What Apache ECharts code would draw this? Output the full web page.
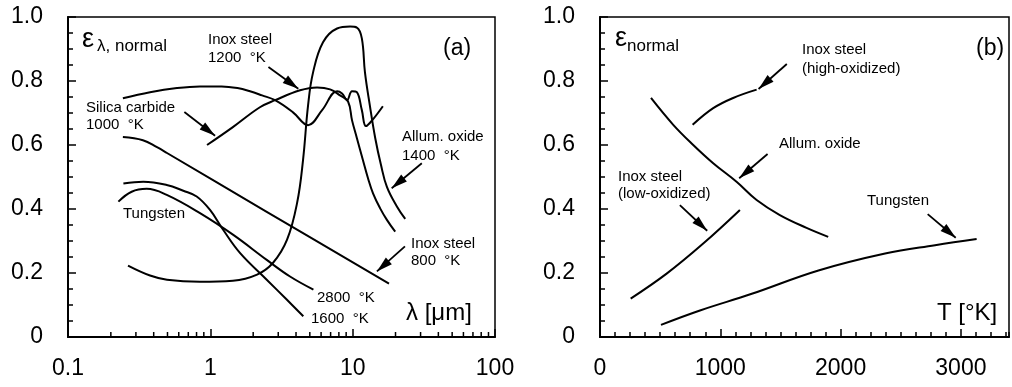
<!DOCTYPE html>
<html>
<head>
<meta charset="utf-8">
<title>emissivity</title>
<style>html,body{margin:0;padding:0;background:#fff;}</style>
</head>
<body>
<div id="graph" style="width:1012px;height:387px;"></div>
<script src="https://cdn.jsdelivr.net/npm/echarts@6/dist/echarts.min.js"></script>
<script>
// (a) spectral emissivity vs wavelength [um]
const lambdaMinorTicks = [0.2, 0.3, 0.4, 0.5, 0.6, 0.7, 0.8, 0.9, 2, 3, 4, 5, 6, 7, 8, 9, 20, 30, 40, 50, 60, 70, 80, 90];
const inoxSteel1200 = [[0.243, 0.746], [0.377, 0.765], [0.583, 0.778], [0.846, 0.783], [1.20, 0.783], [1.55, 0.778], [1.90, 0.768], [2.31, 0.755], [2.85, 0.740], [3.81, 0.702], [4.86, 0.662], [6.10, 0.709], [7.77, 0.768], [8.42, 0.761], [9.13, 0.740], [9.90, 0.768], [10.7, 0.765], [11.6, 0.709], [12.4, 0.659], [13.7, 0.677], [16.3, 0.721]];
const silicaCarbide = [[0.948, 0.600], [1.44, 0.656], [2.23, 0.718], [2.85, 0.740], [4.27, 0.771], [5.62, 0.780], [6.94, 0.774], [8.15, 0.755], [9.28, 0.736], [9.90, 0.677], [10.7, 0.622], [11.8, 0.553], [12.8, 0.497], [13.9, 0.449], [15.6, 0.402], [17.4, 0.366], [19.9, 0.329]];
const allumOxide1400 = [[0.264, 0.223], [0.377, 0.192], [0.496, 0.179], [0.846, 0.173], [1.44, 0.176], [2.13, 0.195], [2.76, 0.232], [3.46, 0.304], [4.07, 0.419], [4.48, 0.553], [4.86, 0.724], [5.27, 0.827], [6.19, 0.921], [7.77, 0.964], [9.59, 0.970], [10.7, 0.967], [11.6, 0.933], [12.2, 0.827], [13.2, 0.724], [14.4, 0.622], [15.8, 0.538], [17.4, 0.469], [20.5, 0.407], [23.4, 0.369]];
const inoxSteel800 = [[0.243, 0.625], [0.336, 0.615], [0.422, 0.593], [0.496, 0.575], [2.49, 0.391], [18.0, 0.167]];
const tungsten1600 = [[0.245, 0.480], [0.338, 0.485], [0.494, 0.475], [0.646, 0.457], [0.802, 0.439], [0.995, 0.397], [1.23, 0.335], [1.62, 0.262], [2.49, 0.179], [3.44, 0.117], [4.50, 0.065]];
const tungsten2800 = [[0.226, 0.423], [0.280, 0.454], [0.357, 0.463], [0.494, 0.444], [0.846, 0.387], [1.45, 0.319], [2.49, 0.241], [3.63, 0.189], [5.30, 0.148]];

// (b) total normal emissivity vs temperature [K]
const allumOxideT = [[424, 0.747], [609, 0.663], [775, 0.600], [941, 0.543], [1135, 0.485], [1302, 0.428], [1495, 0.381], [1717, 0.341], [1897, 0.313]];
const inoxHighOx = [[770, 0.663], [941, 0.715], [1107, 0.747], [1302, 0.773]];
const inoxLowOx = [[255, 0.120], [554, 0.198], [858, 0.292], [1163, 0.397]];
const tungstenT = [[507, 0.038], [831, 0.083], [1262, 0.135], [1816, 0.208], [2370, 0.261], [2785, 0.287], [3131, 0.306]];

// annotation arrows, [from, to] in data units
const arrowsA = [[[2.56, 0.844], [4.15, 0.776]], [[0.657, 0.703], [1.08, 0.629]], [[30.6, 0.543], [18.8, 0.465]], [[23.3, 0.283], [14.8, 0.205]]];
const arrowsB = [[[1553, 0.853], [1318, 0.775]], [[1393, 0.572], [1157, 0.496]], [[664, 0.412], [891, 0.332]], [[2724, 0.384], [2957, 0.310]]];

const FONT = 'Arial, "Liberation Sans", Helvetica, sans-serif';
const chart = echarts.init(document.getElementById('graph'));

const axisLine = {show: true, onZero: false, lineStyle: {color: '#000', width: 2}};
const tickStyle = {color: '#000', width: 1.5};
const tickLabel = {color: '#000', fontSize: 23, fontFamily: FONT};

function yAxis(gi) {
    return {
        type: 'value', gridIndex: gi, min: 0, max: 1, interval: 0.2,
        axisLine: axisLine,
        axisTick: {inside: true, length: 8, lineStyle: tickStyle},
        minorTick: {show: true, splitNumber: 4, length: 5, lineStyle: tickStyle},
        splitLine: {show: false},
        axisLabel: Object.assign({margin: 25, formatter: v => v === 0 ? '0' : v.toFixed(1)}, tickLabel)
    };
}

function arrowLine(list) {
    return {
        silent: true, animation: false,
        symbol: ['none', 'triangle'],
        lineStyle: {color: '#000', width: 1.8, type: 'solid'},
        itemStyle: {color: '#000'},
        label: {show: false},
        emphasis: {disabled: true},
        data: list.map(a => [
            {coord: a[0], symbol: 'none'},
            {coord: a[1], symbol: 'triangle', symbolSize: [9, 16], symbolOffset: [0, 8]}
        ])
    };
}

function curve(name, data, panel, arrows) {
    let s = {
        name, type: 'line', data,
        xAxisIndex: panel, yAxisIndex: panel,
        showSymbol: false, smooth: 0.4, silent: true,
        lineStyle: {color: '#000', width: 2}
    };
    if (arrows) s.markLine = arrowLine(arrows);
    return s;
}

chart.setOption({
    animation: false,
    backgroundColor: '#fff',
    grid: [
        {left: 68, top: 17, width: 427, height: 320, show: true, borderColor: '#000', borderWidth: 1.5},
        {left: 600, top: 17, width: 409, height: 320, show: true, borderColor: '#000', borderWidth: 1.5}
    ],
    xAxis: [
        {
            type: 'log', logBase: 10, gridIndex: 0, min: 0.1, max: 100,
            axisLine: axisLine,
            axisTick: {inside: true, length: 8, lineStyle: tickStyle},
            splitLine: {show: false},
            axisLabel: Object.assign({margin: 20, formatter: v => String(+(+v).toPrecision(3))}, tickLabel)
        },
        {
            type: 'value', gridIndex: 1, min: 0, max: 3400, interval: 1000, position: 'bottom',
            axisLine: axisLine,
            axisTick: {inside: true, length: 8, lineStyle: tickStyle},
            splitLine: {show: false},
            axisLabel: Object.assign({margin: 20, showMaxLabel: false, formatter: v => v % 1000 === 0 ? String(v) : ''}, tickLabel)
        },
        {
            type: 'value', gridIndex: 1, min: 0, max: 3400, interval: 125, position: 'bottom',
            axisLine: {show: false},
            axisTick: {inside: true, length: 5, lineStyle: tickStyle},
            splitLine: {show: false},
            axisLabel: {show: false}
        }
    ],
    yAxis: [yAxis(0), yAxis(1)],
    series: [
        curve('Inox steel 1200 °K', inoxSteel1200, 0, arrowsA),
        curve('Silica carbide 1000 °K', silicaCarbide, 0),
        curve('Allum. oxide 1400 °K', allumOxide1400, 0),
        curve('Inox steel 800 °K', inoxSteel800, 0),
        curve('Tungsten 1600 °K', tungsten1600, 0),
        curve('Tungsten 2800 °K', tungsten2800, 0),
        curve('Allum. oxide', allumOxideT, 1, arrowsB),
        curve('Inox steel (high-oxidized)', inoxHighOx, 1),
        curve('Inox steel (low-oxidized)', inoxLowOx, 1),
        curve('Tungsten', tungstenT, 1)
    ]
});

function text(str, x, y, size) {
    return {
        type: 'text', x: x, y: y, silent: true,
        style: {text: str, fill: '#000', fontSize: size || 15, fontFamily: FONT, verticalAlign: 'middle', align: 'left'}
    };
}

let graphic = [
    text('ε', 82, 40, 27), text('λ, normal', 97, 46, 17),
    text('Inox steel', 208, 40), text('1200  °K', 208, 58),
    text('(a)', 443, 49, 23),
    text('Silica carbide', 86, 107.5), text('1000  °K', 86, 124.5),
    text('Allum. oxide', 402, 137), text('1400  °K', 402, 156),
    text('Tungsten', 123, 214),
    text('Inox steel', 411, 243.5), text('800  °K', 411, 261),
    text('2800  °K', 317, 297.5), text('1600  °K', 311, 318.5),
    text('λ [μm]', 406, 313, 24),

    text('ε', 615, 39, 27), text('normal', 627, 46, 17),
    text('(b)', 976, 49, 23),
    text('Inox steel', 802, 49.5), text('(high-oxidized)', 802, 68.5),
    text('Allum. oxide', 779, 144),
    text('Inox steel', 618, 176.5), text('(low-oxidized)', 618, 194),
    text('Tungsten', 867, 201),
    text('T [°K]', 937, 313, 24)
];

// log-axis minor ticks, placed through the axis scale
const yBase = chart.convertToPixel({yAxisIndex: 0}, 0);
lambdaMinorTicks.forEach(v => {
    const px = chart.convertToPixel({xAxisIndex: 0}, v);
    graphic.push({
        type: 'line', silent: true,
        shape: {x1: px, y1: yBase, x2: px, y2: yBase - 5},
        style: {stroke: '#000', lineWidth: 1.5}
    });
});

chart.setOption({graphic: graphic});
</script>
</body>
</html>
